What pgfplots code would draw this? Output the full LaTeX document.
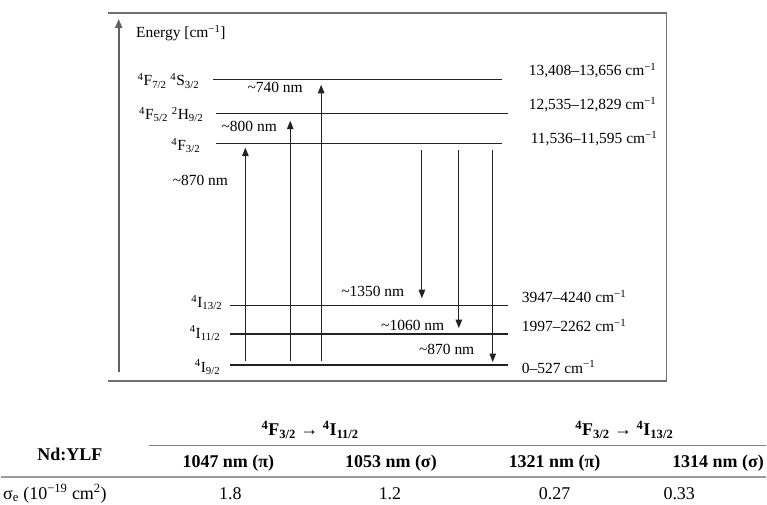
\documentclass[border=0pt]{standalone}
\usepackage{fontspec}
\setmainfont{Liberation Serif}
\usepackage{pgfplots}
\pgfplotsset{compat=1.18}
\usetikzlibrary{arrows.meta}
\definecolor{lvl}{HTML}{222222}
\definecolor{frm}{HTML}{707070}
\definecolor{ax}{HTML}{606060}
\definecolor{tl}{HTML}{808080}
\definecolor{tk}{HTML}{9A9A9A}
\newcommand{\dg}{\fontsize{15.5}{18}\selectfont}
\newcommand{\tb}{\fontsize{18}{21}\selectfont}
\newcommand{\su}[1]{\textsuperscript{#1}}
\newcommand{\sd}[1]{\textsubscript{#1}}
\begin{document}
\begin{tikzpicture}
\begin{axis}[x=1pt,y=1pt,xmin=0,xmax=767,ymin=0,ymax=506,y dir=reverse,
  hide axis,clip=false]
\addplot[draw=none] coordinates {(0,0) (767,506)};
% frame
\addplot[frm,line width=1.2pt] coordinates {(107,13) (667,13) (667,382) (107,382)};
% energy axis
\addplot[ax,line width=1.8pt,-{Triangle[length=9pt,width=7pt]}] coordinates {(118,373) (118,19)};
% levels
\addplot[lvl,line width=1.4pt] coordinates {(213,80) (502,80)};
\addplot[lvl,line width=1.4pt] coordinates {(216,114) (508,114)};
\addplot[lvl,line width=1.4pt] coordinates {(216,144) (502,144)};
\addplot[lvl,line width=1.4pt] coordinates {(230,306) (508,306)};
\addplot[lvl,line width=1.4pt] coordinates {(230,335) (508,335)};
\addplot[lvl,line width=1.4pt] coordinates {(230,366) (508,366)};
% transitions
\pgfplotsset{tr/.style={lvl,line width=1.1pt,-{Triangle[length=8.5pt,width=6.5pt]}}}
\addplot[tr] coordinates {(245,362) (245,148)};
\addplot[tr] coordinates {(290,362) (290,121)};
\addplot[tr] coordinates {(321,362) (321,85)};
\addplot[tr] coordinates {(422,150) (422,299)};
\addplot[tr] coordinates {(459,150) (459,329)};
\addplot[tr] coordinates {(493,150) (493,363)};
% labels diagram
\node[anchor=west,font=\dg] at (axis cs:132,33) {Energy [cm\su{−1}]};
\node[anchor=east,font=\dg,inner sep=0pt] at (axis cs:199,81) {\su{4}F\sd{7/2} \su{4}S\sd{3/2}};
\node[anchor=east,font=\dg,inner sep=0pt] at (axis cs:203,115) {\su{4}F\sd{5/2} \su{2}H\sd{9/2}};
\node[anchor=east,font=\dg,inner sep=0pt] at (axis cs:200,146) {\su{4}F\sd{3/2}};
\node[anchor=east,font=\dg,inner sep=0pt] at (axis cs:222,303) {\su{4}I\sd{13/2}};
\node[anchor=east,font=\dg,inner sep=0pt] at (axis cs:220,334) {\su{4}I\sd{11/2}};
\node[anchor=east,font=\dg,inner sep=0pt] at (axis cs:220,368) {\su{4}I\sd{9/2}};
\node[anchor=west,font=\dg,inner sep=0pt] at (axis cs:172,181) {\textasciitilde870 nm};
\node[anchor=west,font=\dg,inner sep=0pt] at (axis cs:221,127) {\textasciitilde800 nm};
\node[anchor=west,font=\dg,inner sep=0pt] at (axis cs:247,88) {\textasciitilde740 nm};
\node[anchor=west,font=\dg,inner sep=0pt] at (axis cs:341,292) {\textasciitilde1350 nm};
\node[anchor=west,font=\dg,inner sep=0pt] at (axis cs:381,326) {\textasciitilde1060 nm};
\node[anchor=west,font=\dg,inner sep=0pt] at (axis cs:419,350) {\textasciitilde870 nm};
\node[anchor=west,font=\dg,inner sep=0pt] at (axis cs:529,71) {13,408–13,656 cm\su{−1}};
\node[anchor=west,font=\dg,inner sep=0pt] at (axis cs:529,105) {12,535–12,829 cm\su{−1}};
\node[anchor=west,font=\dg,inner sep=0pt] at (axis cs:531,139) {11,536–11,595 cm\su{−1}};
\node[anchor=west,font=\dg,inner sep=0pt] at (axis cs:522,297) {3947–4240 cm\su{−1}};
\node[anchor=west,font=\dg,inner sep=0pt] at (axis cs:522,326) {1997–2262 cm\su{−1}};
\node[anchor=west,font=\dg,inner sep=0pt] at (axis cs:522,368) {0–527 cm\su{−1}};
% table
\addplot[tl,line width=1.2pt] coordinates {(148,447) (767,447)};
\addplot[tk,line width=2pt] coordinates {(0,478) (767,478)};
\node[font=\tb\bfseries,inner sep=0pt] at (axis cs:69,456) {Nd:YLF};
\node[font=\tb\bfseries,inner sep=0pt] at (axis cs:310,431) {\su{4}F\sd{3/2} → \su{4}I\sd{11/2}};
\node[font=\tb\bfseries,inner sep=0pt] at (axis cs:625,431) {\su{4}F\sd{3/2} → \su{4}I\sd{13/2}};
\node[font=\tb\bfseries,inner sep=0pt] at (axis cs:228,464) {1047 nm (π)};
\node[font=\tb\bfseries,inner sep=0pt] at (axis cs:391,464) {1053 nm (σ)};
\node[font=\tb\bfseries,inner sep=0pt] at (axis cs:555,464) {1321 nm (π)};
\node[font=\tb\bfseries,inner sep=0pt,anchor=east] at (axis cs:765,464) {1314 nm (σ)};
\node[font=\tb,inner sep=0pt,anchor=west] at (axis cs:2,495) {σ\sd{e} (10\su{−19} cm\su{2})};
\node[font=\tb,inner sep=0pt] at (axis cs:230,495) {1.8};
\node[font=\tb,inner sep=0pt] at (axis cs:390,495) {1.2};
\node[font=\tb,inner sep=0pt] at (axis cs:555,495) {0.27};
\node[font=\tb,inner sep=0pt] at (axis cs:680,495) {0.33};
\end{axis}
\end{tikzpicture}
\end{document}
